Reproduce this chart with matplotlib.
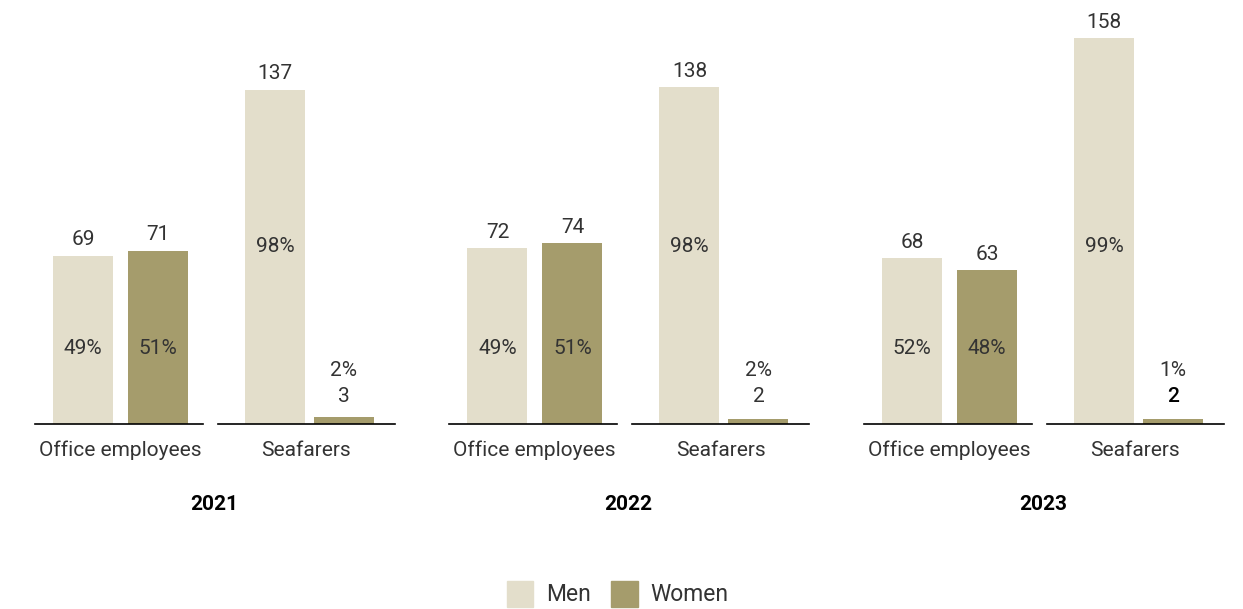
import matplotlib.pyplot as plt
from matplotlib.patches import Patch

# Data
years = ["2021", "2022", "2023"]
categories = ["Office employees", "Seafarers"]
office_men = [69, 72, 68]
office_women = [71, 74, 63]
sea_men = [137, 138, 158]
sea_women = [3, 2, 2]
office_men_pct = ["49%", "49%", "52%"]
office_women_pct = ["51%", "51%", "48%"]
sea_men_pct = ["98%", "98%", "99%"]
sea_women_pct = ["2%", "2%", "1%"]

men_color = "#E3DECB"
women_color = "#A59C6C"
text_color = "#333333"

plt.rcParams['font.family'] = ['Roboto', 'DejaVu Sans']

W, H = 1243, 609
fig = plt.figure(figsize=(W / 100, H / 100), dpi=100)
ax = fig.add_axes([0, 0, 1, 1])

base_px = 424
scale = 2.44  # pixels per unit


def py(p):
    # pixel row -> data value
    return (base_px - p) / scale


ax.set_xlim(0, W)
ax.set_ylim(py(H), py(0))
ax.axis("off")

x0s = [83, 497.5, 912]
bw = 60
fs = 15
fw = "normal"

for i, x0 in enumerate(x0s):
    xs = [x0, x0 + 75, x0 + 192, x0 + 261]
    vals = [office_men[i], office_women[i], sea_men[i], sea_women[i]]
    cols = [men_color, women_color, men_color, women_color]
    ax.bar(xs, vals, width=bw, color=cols, zorder=2)

    # baselines
    ax.plot([x0 - 48, x0 + 120], [0, 0], color="black", lw=1.2, zorder=3)
    ax.plot([x0 + 135, x0 + 312], [0, 0], color="black", lw=1.2, zorder=3)

    # value labels
    for x, v in zip(xs[:3], vals[:3]):
        ax.text(x, v + 16 / scale, str(v), ha="center", va="center",
                fontsize=fs, color=text_color, fontweight=fw)
    ax.text(xs[3], py(396), str(vals[3]), ha="center", va="center",
            fontsize=fs, color="black" if i == 2 else text_color,
            fontweight="medium" if i == 2 else fw)

    # percentage labels
    ax.text(xs[0], py(348), office_men_pct[i], ha="center", va="center",
            fontsize=fs, color=text_color, fontweight=fw)
    ax.text(xs[1], py(348), office_women_pct[i], ha="center", va="center",
            fontsize=fs, color=text_color, fontweight=fw)
    ax.text(xs[2], py(246), sea_men_pct[i], ha="center", va="center",
            fontsize=fs, color=text_color, fontweight=fw)
    ax.text(xs[3], py(371), sea_women_pct[i], ha="center", va="center",
            fontsize=fs, color=text_color, fontweight=fw)

    # category and year labels
    ax.text(x0 + 37, py(450), categories[0], ha="center", va="center",
            fontsize=fs, color=text_color, fontweight=fw)
    ax.text(x0 + 223, py(450), categories[1], ha="center", va="center",
            fontsize=fs, color=text_color, fontweight=fw)
    ax.text(x0 + 131, py(504), years[i], ha="center", va="center",
            fontsize=15, color="black", fontweight="bold")

handles = [Patch(color=men_color, label="Men"),
           Patch(color=women_color, label="Women")]
leg = ax.legend(handles=handles, ncol=2, loc="lower center",
                bbox_to_anchor=(0.497, -0.03), frameon=False,
                handlelength=1.15, handleheight=1.35, handletextpad=0.55,
                columnspacing=0.9, prop={"size": 16.5, "weight": fw})
for t in leg.get_texts():
    t.set_color(text_color)

fig.savefig("out.png", dpi=100)
